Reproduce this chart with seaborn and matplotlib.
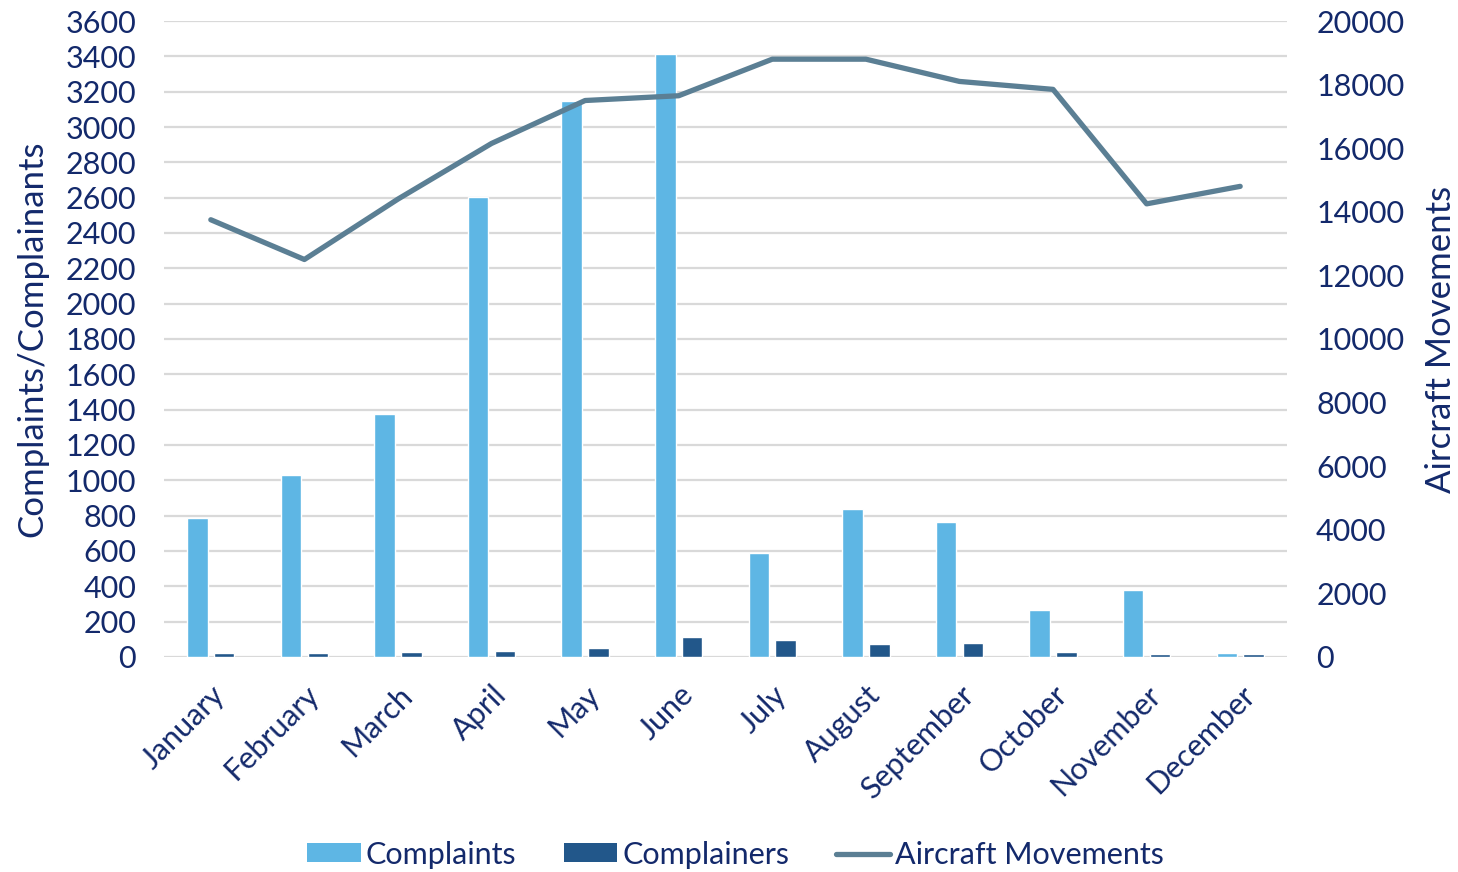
import numpy as np
import pandas as pd
import matplotlib
matplotlib.use("Agg")
import matplotlib.pyplot as plt
import seaborn as sns
from matplotlib.patches import Patch
from matplotlib.lines import Line2D

months = ["January", "February", "March", "April", "May", "June",
          "July", "August", "September", "October", "November", "December"]
complaints = [785, 1030, 1375, 2605, 3145, 3415, 590, 840, 765, 267, 378, 20]
complainers = [23, 23, 27, 34, 48, 112, 94, 73, 77, 29, 14, 17]
movements = [13750, 12500, 14400, 16150, 17500, 17650, 18800, 18800, 18100, 17850, 14250, 14800]

left_ticks = list(range(0, 3601, 200))
right_ticks = list(range(0, 20001, 2000))

c_complaints = "#5EB6E4"
c_complainers = "#22578A"
c_line = "#5B7F94"
c_text = "#13296B"
c_grid = "#D9D9D9"

sns.set_theme(style="white")
plt.rcParams["font.family"] = ["Lato", "DejaVu Sans"]

df = pd.DataFrame({
    "Month": months * 2,
    "Value": complaints + complainers,
    "Series": ["Complaints"] * 12 + ["Complainers"] * 12,
})

fig = plt.figure(figsize=(14.58, 8.72), dpi=100)
ax = fig.add_axes([0.1125, 0.2466, 0.7702, 0.7293])

sns.barplot(data=df, x="Month", y="Value", hue="Series", order=months,
            hue_order=["Complaints", "Complainers"],
            palette=[c_complaints, c_complainers], width=0.573, gap=0.235,
            saturation=1, ax=ax, legend=False)

ax.set_ylim(0, 3600)
ax.set_yticks(left_ticks)
ax.set_xlim(-0.5, 11.5)
ax.yaxis.grid(True, color=c_grid, linewidth=1.6)
ax.set_axisbelow(True)
for s in ax.spines.values():
    s.set_visible(False)
ax.tick_params(axis="y", length=0, pad=20, labelsize=22, labelcolor=c_text)
ax.tick_params(axis="x", length=0, pad=17, labelsize=22, labelcolor=c_text)
plt.setp(ax.get_xticklabels(), rotation=45, ha="right", rotation_mode="anchor")
ax.set_xlabel("")
ax.set_ylabel("Complaints/Complainants", fontsize=25, color=c_text, labelpad=12)

ax2 = ax.twinx()
sns.lineplot(x=np.arange(len(months)), y=movements, ax=ax2, color=c_line,
             linewidth=3.8, solid_capstyle="round", solid_joinstyle="round")
ax2.set_ylim(0, 20000)
ax2.set_yticks(right_ticks)
for s in ax2.spines.values():
    s.set_visible(False)
ax2.tick_params(axis="y", length=0, pad=21, labelsize=22, labelcolor=c_text)
ax2.set_ylabel("Aircraft Movements", fontsize=25, color=c_text, labelpad=15)
ax2.grid(False)

handles = [
    Patch(facecolor=c_complaints, edgecolor="none"),
    Patch(facecolor=c_complainers, edgecolor="none"),
    Line2D([0], [0], color=c_line, linewidth=3.8),
]
fig.legend(handles, ["Complaints", "Complainers", "Aircraft Movements"],
           loc="center", bbox_to_anchor=(0.5045, 0.02), ncol=3, frameon=False,
           fontsize=22, labelcolor=c_text, handlelength=1.75, handleheight=0.56,
           handletextpad=0.16, columnspacing=1.55)

fig.savefig("out.png", dpi=100)
